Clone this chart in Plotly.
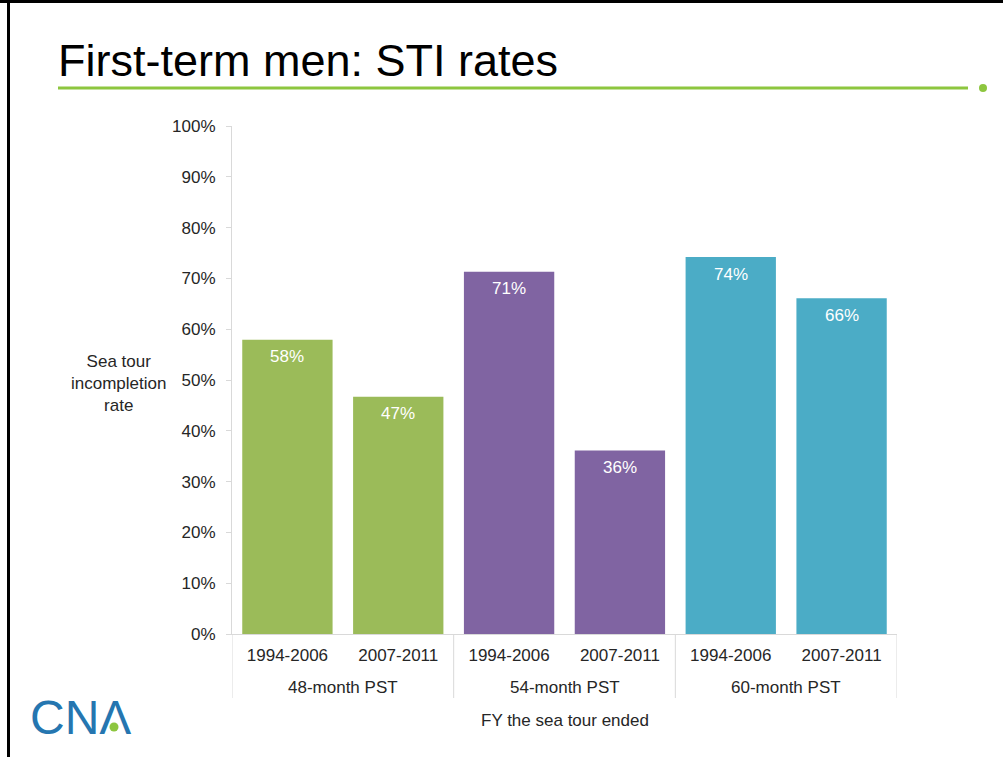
import plotly.graph_objects as go

# ---- data ----
groups = ["48-month PST", "48-month PST", "54-month PST", "54-month PST", "60-month PST", "60-month PST"]
periods = ["1994-2006", "2007-2011", "1994-2006", "2007-2011", "1994-2006", "2007-2011"]
rates = [0.579, 0.467, 0.713, 0.361, 0.742, 0.661]
bar_colors = ["#9BBB59", "#9BBB59", "#8064A2", "#8064A2", "#4BACC6", "#4BACC6"]

title_text = "First-term men: STI rates"
y_title = "Sea tour<br>incompletion<br>rate"
x_title = "FY the sea tour ended"

# ---- layout geometry (pixels) ----
W, H = 1003, 757
L, R, T, B = 232, 897, 126, 634


def px(x):
    return (x - L) / (R - L)


def py(y):
    return (B - y) / (B - T)


FONT = "Liberation Sans, Arial, sans-serif"
TXT = "#262626"
AXC = "#D9D9D9"

cats = [f"{g}|{p}" for g, p in zip(groups, periods)]

fig = go.Figure()
fig.add_trace(go.Bar(
    x=cats,
    y=rates,
    marker=dict(color=bar_colors, line=dict(width=0)),
    hoverinfo="skip",
))

shapes = [
    # slide border (top & left)
    dict(type="line", xref="paper", yref="paper", x0=px(0), x1=px(W), y0=py(1.5), y1=py(1.5),
         line=dict(color="black", width=3)),
    dict(type="line", xref="paper", yref="paper", x0=px(8.5), x1=px(8.5), y0=py(0), y1=py(H),
         line=dict(color="black", width=3)),
    # green title rule
    dict(type="line", xref="paper", yref="paper", x0=px(58), x1=px(968), y0=py(88), y1=py(88),
         line=dict(color="#8DC63F", width=3)),
    dict(type="circle", xref="paper", yref="paper", x0=px(979), x1=px(987), y0=py(84), y1=py(92),
         fillcolor="#8DC63F", line=dict(width=0)),
    # CNA logo green dot
    dict(type="circle", xref="paper", yref="paper", x0=px(109.5), x1=px(118.5), y0=py(722.5), y1=py(731.5),
         fillcolor="#8DC63F", line=dict(width=0)),
]

annotations = [
    dict(text=title_text, xref="paper", yref="paper", x=px(56), y=py(60), xanchor="left", yanchor="middle",
         showarrow=False, font=dict(family="Liberation Sans, Arial", size=45, color="black")),
    dict(text=y_title, xref="paper", yref="paper", x=px(118), y=py(383), xanchor="center", yanchor="middle",
         showarrow=False, font=dict(family=FONT, size=17, color=TXT)),
    dict(text=x_title, xref="paper", yref="paper", x=0.5, y=py(720), xanchor="center", yanchor="middle",
         showarrow=False, font=dict(family=FONT, size=17, color=TXT)),
    dict(text="CNΛ", xref="paper", yref="paper", x=px(28), y=py(717), xanchor="left", yanchor="middle",
         showarrow=False, font=dict(family="Liberation Sans, Arial", size=48, color="#2576B0")),
]

# value labels inside bar tops
for i, v in enumerate(rates):
    annotations.append(dict(
        x=i, y=v, xref="x", yref="y", text=f"{v:.0%}", showarrow=False,
        yanchor="middle", yshift=-17, font=dict(family=FONT, size=17, color="white"),
    ))

# group labels and dividers (built from the category positions)
group_names = list(dict.fromkeys(groups))
bounds = [-0.5]
for g in group_names:
    idx = [i for i, gg in enumerate(groups) if gg == g]
    annotations.append(dict(
        x=sum(idx) / len(idx), y=py(687), xref="x", yref="paper", text=g, showarrow=False,
        xanchor="center", yanchor="middle", font=dict(family=FONT, size=17, color=TXT),
    ))
    bounds.append(max(idx) + 0.5)
for b in bounds:
    shapes.append(dict(type="line", xref="x", yref="paper", x0=b, x1=b, y0=0, y1=py(698),
                       line=dict(color=AXC, width=1)))

fig.update_layout(
    width=W, height=H,
    margin=dict(l=L, r=W - R, t=T, b=H - B),
    paper_bgcolor="white", plot_bgcolor="white",
    showlegend=False,
    bargap=0.185,
    font=dict(family=FONT, size=17, color=TXT),
    shapes=shapes,
    annotations=annotations,
    xaxis=dict(
        type="category",
        tickvals=cats, ticktext=periods,
        range=[-0.5, len(cats) - 0.5],
        showline=True, linecolor=AXC, linewidth=1,
        ticks="", showgrid=False,
        ticklabelstandoff=6,
        tickfont=dict(family=FONT, size=17, color=TXT),
    ),
    yaxis=dict(
        range=[0, 1], dtick=0.1, tickformat=".0%",
        showline=True, linecolor=AXC, linewidth=1,
        ticks="outside", ticklen=5, tickcolor=AXC,
        ticklabelstandoff=7,
        showgrid=False, zeroline=False,
        tickfont=dict(family=FONT, size=17, color=TXT),
    ),
)

fig.write_html("out.html", config={"displayModeBar": False},
               post_script="document.body.style.margin='0px';document.body.style.overflow='hidden';")
